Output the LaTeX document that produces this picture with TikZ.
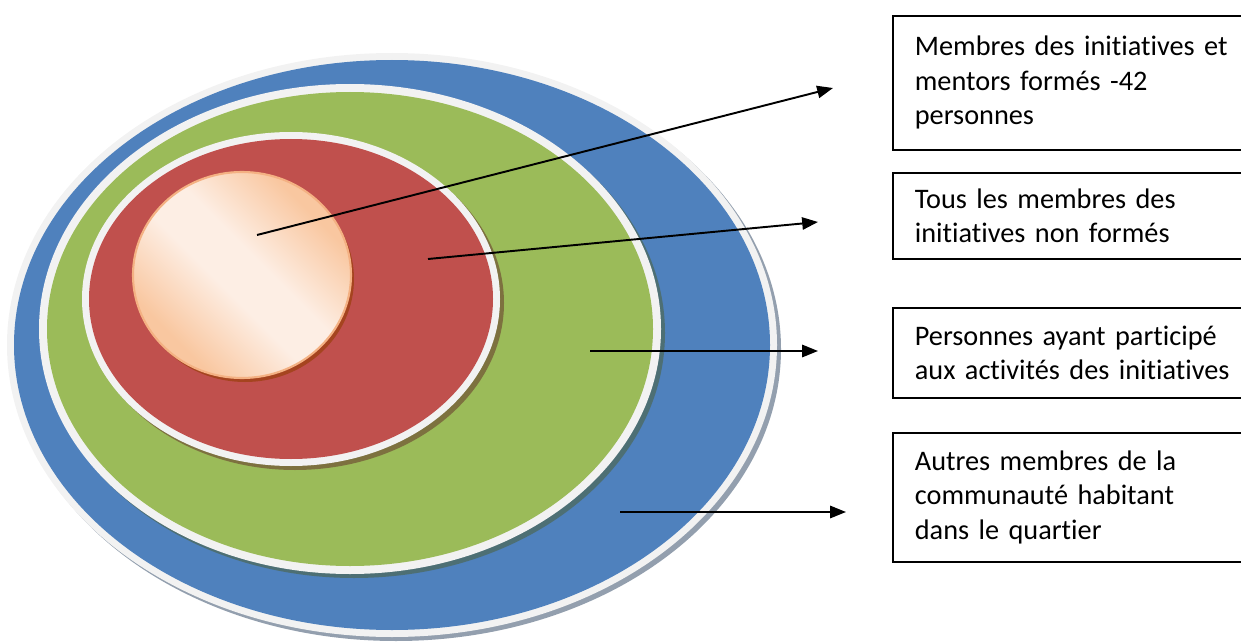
\documentclass[tikz,border=0pt]{standalone}
\usepackage{fontspec}
\setmainfont{Carlito}[Ligatures=NoCommon]
\usetikzlibrary{arrows.meta}
\definecolor{ringblue}{HTML}{4F81BD}
\definecolor{ringgreen}{HTML}{9BBB59}
\definecolor{ringred}{HTML}{C0504D}
\definecolor{rim}{HTML}{F2F2F2}
\definecolor{peach}{HTML}{F9C7A0}
\definecolor{peachlight}{HTML}{FDEEE4}
\definecolor{peachedge}{HTML}{F4B183}
\definecolor{coreshadow}{HTML}{A5441F}
\pgfdeclarehorizontalshading{coreglow}{100bp}{color(0bp)=(peach); color(28bp)=(peach);
  color(45bp)=(peachlight); color(55bp)=(peachlight); color(72bp)=(peach); color(100bp)=(peach)}
\begin{document}
\begin{tikzpicture}[x=0.02cm, y=0.02cm,
  shadow/.style={fill=black!50!#1, fill opacity=0.5},
  legend/.style={draw=black, line width=1pt, anchor=north west, align=left,
    text width=6.8cm, inner xsep=0.44cm, inner ysep=0pt,
    font=\fontsize{16.1pt}{19.6pt}\selectfont},
  pointer/.style={black, line width=1.1pt, -{Triangle[length=9pt,width=7pt]}}]
\tikzstyle{every node}+=[inner sep=0pt]
\useasboundingbox (0,0) rectangle (1241,-642);
\clip (0,0) rectangle (1241,-642);
% blue ring
\fill [shadow=ringblue] (396,-349) ellipse (385 and 292);
\fill [rim] (392,-345) ellipse (385 and 292);
\fill [ringblue] (392,-345) ellipse (378 and 285);
% green ring
\fill [shadow=ringgreen] (354,-333) ellipse (311 and 245);
\fill [rim] (350,-329) ellipse (311 and 245);
\fill [ringgreen] (350,-329) ellipse (303 and 237);
% red ring
\fill [shadow=ringred] (295,-303) ellipse (209 and 167);
\fill [rim] (291,-299) ellipse (209 and 167);
\fill [ringred] (291,-299) ellipse (202 and 160);
% core
\fill [coreshadow] (245,-279) ellipse (109 and 103);
\shadedraw [shading=coreglow, shading angle=45, draw=peachedge, line width=1.2pt]
  (242,-275) ellipse (109 and 103);
% legend boxes
\node [legend, minimum height=2.68cm] (membres) at (892,-15)
  {Membres des initiatives et\\mentors formés -42\\personnes};
\node [legend, minimum height=1.72cm] (tous) at (892,-172)
  {Tous les membres des\\initiatives non formés};
\node [legend, minimum height=1.8cm] (participants) at (892,-307)
  {Personnes ayant participé\\aux activités des initiatives};
\node [legend, minimum height=2.58cm] (autres) at (892,-432)
  {Autres membres de la\\communauté habitant\\dans le quartier};
% pointers
\coordinate (pcore) at (257,-235);
\coordinate (pred) at (428,-259);
\coordinate (pgreen) at (590,-351);
\coordinate (pblue) at (620,-512);
\coordinate (ecore) at (833,-88);
\coordinate (ered) at (818,-222);
\coordinate (egreen) at (818,-351);
\coordinate (eblue) at (846,-512);
\draw [pointer] (pcore) -- (ecore);
\draw [pointer] (pred) -- (ered);
\draw [pointer] (pgreen) -- (egreen);
\draw [pointer] (pblue) -- (eblue);
\end{tikzpicture}
\end{document}
